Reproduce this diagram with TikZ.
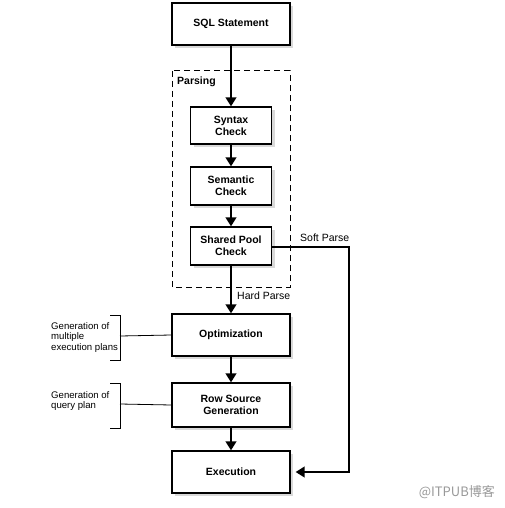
\documentclass[tikz,border=0pt]{standalone}
\usepackage{fontspec}
\setmainfont{Liberation Sans}
\newfontfamily\cjkfont{Noto Sans CJK SC}
\usetikzlibrary{arrows.meta,shadows}
\begin{document}
\begin{tikzpicture}[x=1pt,y=-1pt,
  procbox/.style={draw=black,line width=1.2pt,fill=white,align=center,
    font=\fontsize{10.5}{12}\selectfont\bfseries,inner sep=0pt,
    drop shadow={shadow xshift=3pt,shadow yshift=-3pt,fill=black!15,opacity=1}},
  flowarrow/.style={line width=2.5pt,-{Triangle[length=9pt,width=10.5pt]}},
  bracketline/.style={line width=0.8pt},
  note/.style={font=\fontsize{9.6}{10.8}\selectfont,align=left,inner sep=0pt,anchor=west}]
\useasboundingbox (0,0) rectangle (505,508);
% dashed parsing region
\draw[line width=1pt,dash pattern=on 6pt off 4pt] (172,71) rectangle (290,287);
\node[anchor=west,inner sep=0pt,font=\fontsize{10.5}{12}\selectfont\bfseries] (parsing) at (177,82) {Parsing};
% boxes
\node[procbox,minimum width=118pt,minimum height=42pt] (sql) at (231,24) {SQL Statement};
\node[procbox,minimum width=81pt,minimum height=37pt] (syn) at (231,125.5) {Syntax\\Check};
\node[procbox,minimum width=81pt,minimum height=38pt] (sem) at (231,186) {Semantic\\Check};
\node[procbox,minimum width=81pt,minimum height=38pt] (spc) at (231,246) {Shared Pool\\Check};
\node[procbox,minimum width=118pt,minimum height=42pt] (opt) at (231,335) {Optimization};
\node[procbox,minimum width=118pt,minimum height=44pt] (rsg) at (231,405) {Row Source\\Generation};
\node[procbox,minimum width=118pt,minimum height=42pt] (exe) at (231,472) {Execution};
% arrows
\draw[flowarrow] (sql) -- (syn);
\draw[flowarrow] (syn) -- (sem);
\draw[flowarrow] (sem) -- (spc);
\draw[flowarrow] (spc) -- (opt);
\draw[flowarrow] (opt) -- (rsg);
\draw[flowarrow] (rsg) -- (exe);
\coordinate (sp1) at (349,247);
\coordinate (sp2) at (349,472);
\draw[flowarrow,shorten >=5pt] (spc.east |- sp1) -- (sp1) -- (sp2) -- (exe.east);
\node[anchor=west,inner sep=0pt,font=\fontsize{10.5}{12}\selectfont] (soft) at (300,238) {Soft Parse};
\node[anchor=west,inner sep=0pt,font=\fontsize{10.5}{12}\selectfont] (hard) at (237,296) {Hard Parse};
% brackets
\coordinate (b1) at (120,336);
\draw[bracketline] (110,315) -- (120,315) -- (120,360) -- (110,360);
\draw[bracketline] (b1) -- (opt.west);
\node[note] (n1) at (51,337.5) {Generation of\\multiple\\execution plans};
\coordinate (b2) at (120,404);
\draw[bracketline] (110,383) -- (120,383) -- (120,428) -- (110,428);
\draw[bracketline] (b2) -- (rsg.west);
\node[note] (n2) at (51,401) {Generation of\\query plan};
% watermark
\node[anchor=east,inner sep=0pt,text=black!40,font=\cjkfont\fontsize{13}{15}\selectfont] (wm) at (495,492) {@ITPUB博客};
\end{tikzpicture}
\end{document}
